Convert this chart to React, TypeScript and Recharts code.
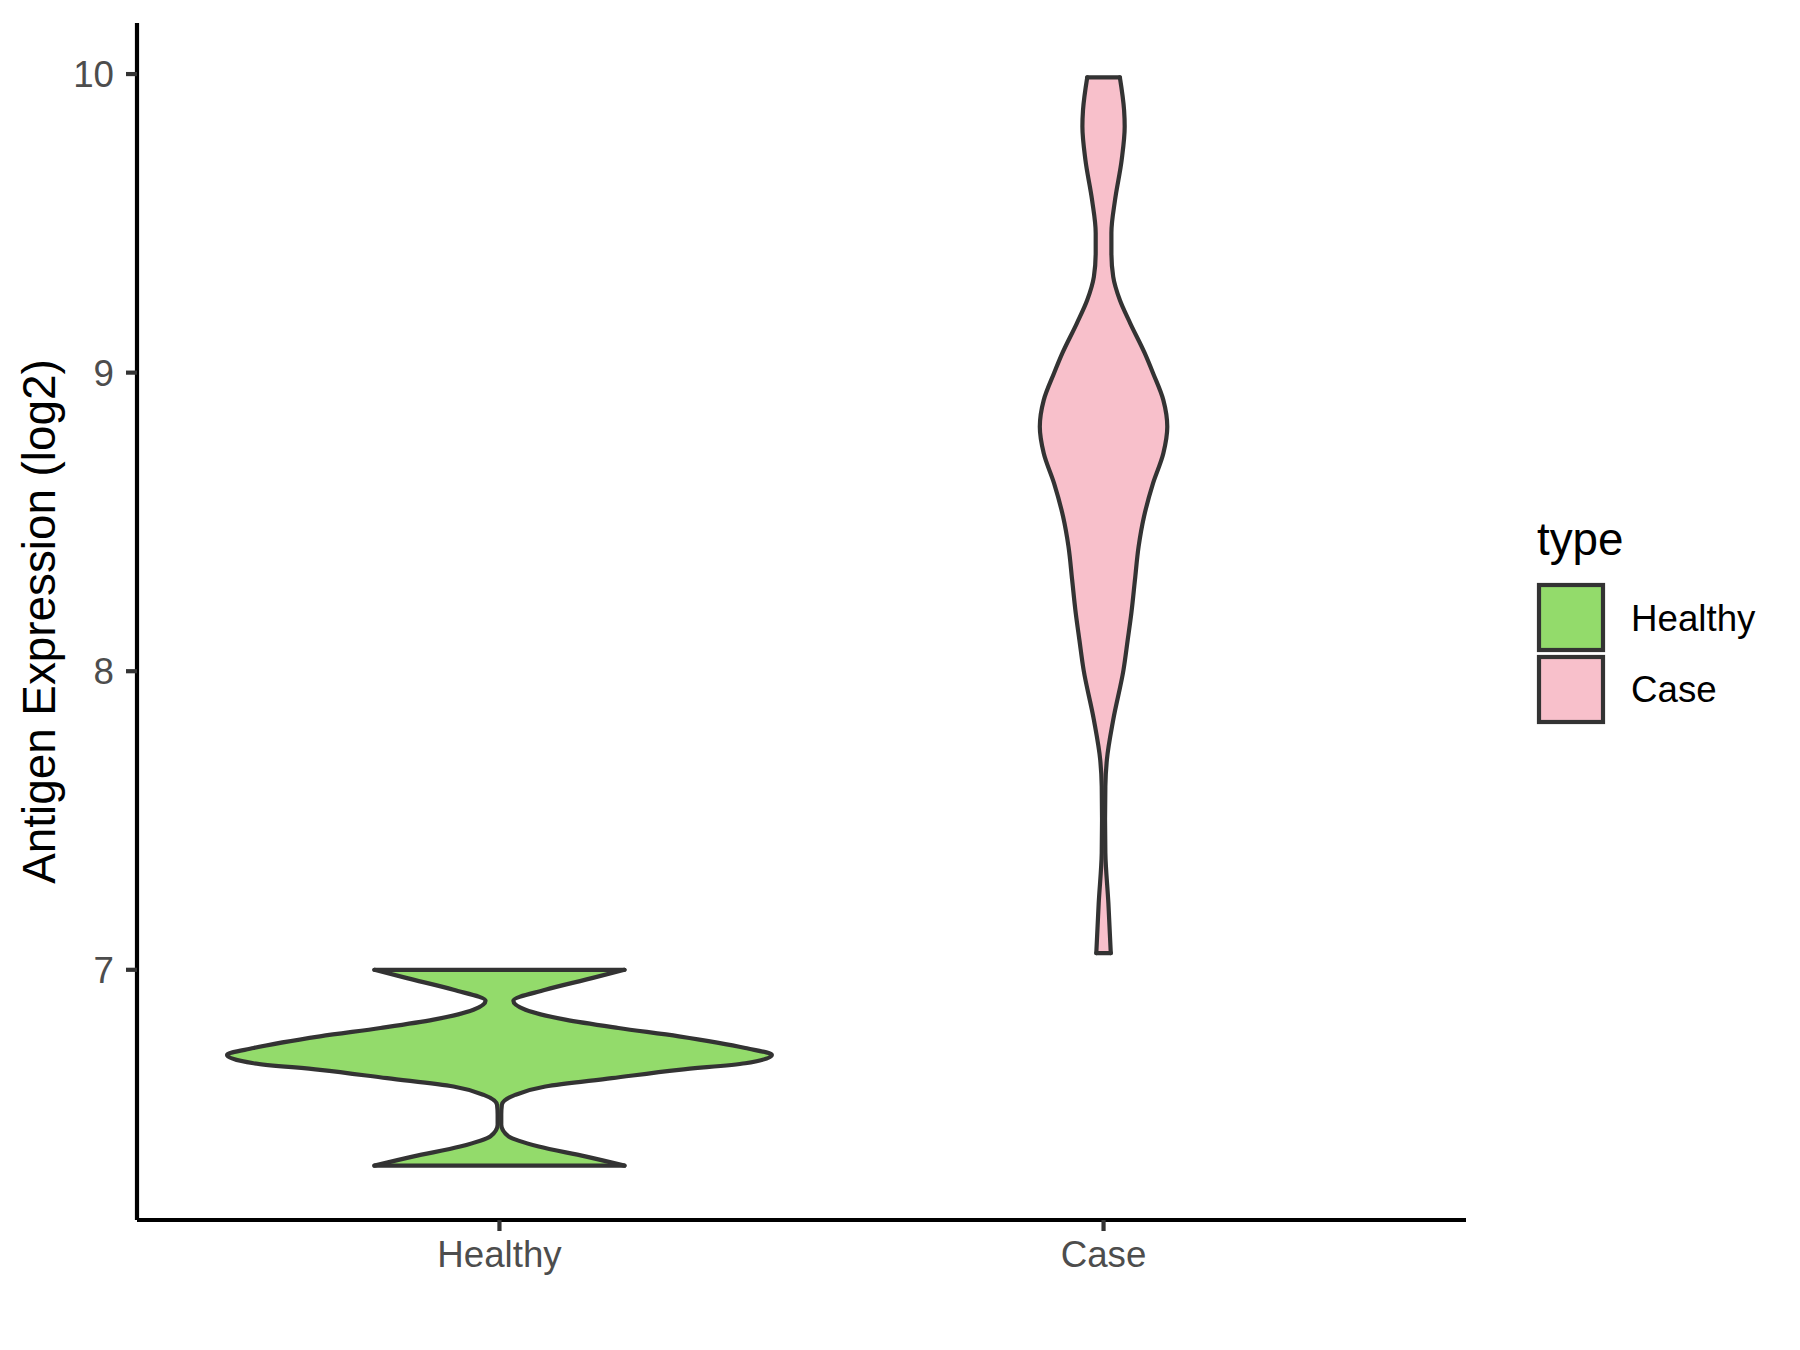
import React from 'react';
import { ComposedChart, Area, Line, XAxis, YAxis, Legend } from 'recharts';

const FONT = '"Liberation Sans", Arial, Helvetica, sans-serif';

// groups on the x axis (positions 1 and 2)
const categories = ['Healthy', 'Case'];
const groupFills = ['#93DB6B', '#F8C0CB'];
const yTicks = [7, 8, 9, 10];

// violin outlines: expression level -> half width (x units)
const healthyLevels = [6.344, 6.375, 6.408, 6.442, 6.481, 6.515, 6.548, 6.581, 6.609, 6.637, 6.665, 6.687, 6.715, 6.738, 6.777, 6.805, 6.833, 6.866, 6.896, 6.933, 6.972, 7.0];
const healthyHalfWidth = [0.207, 0.142, 0.065, 0.015, 0.003, 0.003, 0.004, 0.026, 0.076, 0.186, 0.297, 0.407, 0.451, 0.407, 0.297, 0.197, 0.109, 0.043, 0.023, 0.076, 0.153, 0.207];

const caseLevels = [7.056, 7.224, 7.392, 7.502, 7.614, 7.703, 7.837, 8.004, 8.105, 8.194, 8.306, 8.417, 8.518, 8.63, 8.73, 8.819, 8.908, 8.998, 9.066, 9.166, 9.243, 9.321, 9.401, 9.468, 9.578, 9.712, 9.824, 9.879, 9.989];
const caseHalfWidth = [0.012, 0.008, 0.003, 0.0025, 0.003, 0.0055, 0.016, 0.033, 0.04, 0.046, 0.052, 0.058, 0.067, 0.082, 0.099, 0.1055, 0.099, 0.082, 0.068, 0.044, 0.027, 0.016, 0.013, 0.013, 0.019, 0.03, 0.035, 0.034, 0.027];

const buildRows = (center: number, levels: number[], half: number[]) =>
  levels.map((y, i) => ({ y, lo: center - half[i], hi: center + half[i] }));

const healthyRows = buildRows(1, healthyLevels, healthyHalfWidth);
const caseRows = buildRows(2, caseLevels, caseHalfWidth);

const capOf = (row: { y: number; lo: number; hi: number }) => [
  { y: row.y, v: row.lo },
  { y: row.y, v: row.hi },
];

const violins = [
  { name: categories[0], fill: groupFills[0], rows: healthyRows },
  { name: categories[1], fill: groupFills[1], rows: caseRows },
];

const OUTLINE = '#333333';

const renderYLabel = (props: any) => {
  const vb = props.viewBox || {};
  const x = (vb.x || 0) + 55;
  const y = (vb.y || 0) + (vb.height || 0) / 2;
  return (
    <text
      x={x}
      y={y}
      transform={`rotate(-90, ${x}, ${y})`}
      textAnchor="middle"
      fill="#000000"
      fontSize={45.8}
      fontFamily={FONT}
    >
      Antigen Expression (log2)
    </text>
  );
};

const LegendBox = () => (
  <svg width={270} height={220} style={{ display: 'block' }}>
    <text x={7} y={45} fontSize={45.8} fontFamily={FONT} fill="#000000">
      type
    </text>
    {violins.map((v, i) => (
      <g key={v.name}>
        <rect x={9} y={75 + i * 72} width={64} height={65} fill={v.fill} stroke={OUTLINE} strokeWidth={4.2} />
        <text x={101} y={121 + i * 71} fontSize={36.7} fontFamily={FONT} fill="#000000">
          {v.name}
        </text>
      </g>
    ))}
  </svg>
);

export default function App() {
  return (
    <div style={{ position: 'absolute', left: 0, top: 0, width: 1800, height: 1350, background: '#ffffff' }}>
      <ComposedChart
        width={1800}
        height={1350}
        layout="vertical"
        margin={{ top: 23, right: 334, bottom: 0, left: 0 }}
      >
        <XAxis
          type="number"
          domain={[0.4, 2.6]}
          ticks={[1, 2]}
          interval={0}
          allowDataOverflow
          height={130}
          tickFormatter={(v: number) => categories[v - 1]}
          tick={{ fill: '#4D4D4D', fontSize: 36.7, fontFamily: FONT }}
          tickSize={11}
          tickMargin={10}
          tickLine={{ stroke: OUTLINE, strokeWidth: 4.2 }}
          axisLine={{ stroke: '#000000', strokeWidth: 4.2 }}
        />
        <YAxis
          type="number"
          dataKey="y"
          domain={[6.162, 10.171]}
          reversed
          ticks={yTicks}
          interval={0}
          allowDataOverflow
          width={137}
          tick={{ fill: '#4D4D4D', fontSize: 36.7, fontFamily: FONT }}
          tickSize={11}
          tickMargin={12}
          tickLine={{ stroke: OUTLINE, strokeWidth: 4.2 }}
          axisLine={{ stroke: '#000000', strokeWidth: 4.2 }}
          label={renderYLabel}
        />
        {violins.map((v) => (
          <Area
            key={`area-${v.name}`}
            data={v.rows}
            dataKey={(d: any) => [d.lo, d.hi]}
            type="monotone"
            fill={v.fill}
            fillOpacity={1}
            stroke={OUTLINE}
            strokeWidth={4.2}
            strokeLinecap="round"
            strokeLinejoin="round"
            dot={false}
            activeDot={false}
            legendType="none"
            isAnimationActive={false}
          />
        ))}
        {violins.map((v) => (
          <Line
            key={`top-${v.name}`}
            data={capOf(v.rows[v.rows.length - 1])}
            dataKey="v"
            type="linear"
            stroke={OUTLINE}
            strokeWidth={4.2}
            strokeLinecap="round"
            dot={false}
            activeDot={false}
            legendType="none"
            isAnimationActive={false}
          />
        ))}
        {violins.map((v) => (
          <Line
            key={`bottom-${v.name}`}
            data={capOf(v.rows[0])}
            dataKey="v"
            type="linear"
            stroke={OUTLINE}
            strokeWidth={4.2}
            strokeLinecap="round"
            dot={false}
            activeDot={false}
            legendType="none"
            isAnimationActive={false}
          />
        ))}
        <Legend
          layout="horizontal"
          align="center"
          verticalAlign="middle"
          content={() => <LegendBox />}
          wrapperStyle={{ position: 'absolute', left: 1530, top: 510, width: 270, height: 220 }}
        />
      </ComposedChart>
    </div>
  );
}
